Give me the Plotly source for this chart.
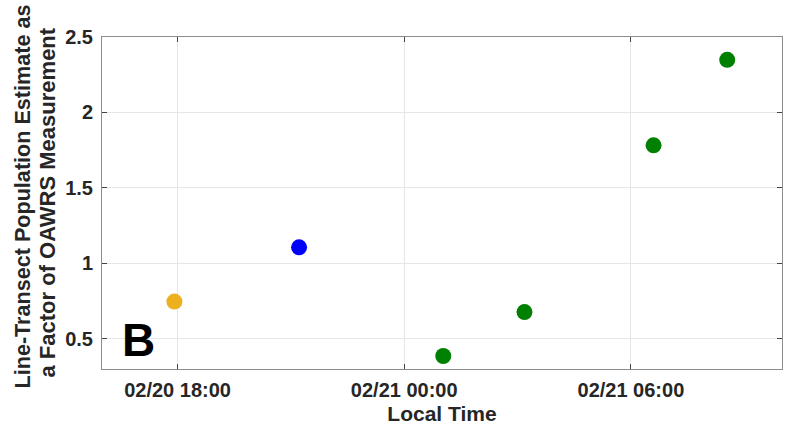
import plotly.graph_objects as go

# Data
times = ["2020-02-20 17:55", "2020-02-20 21:13", "2020-02-21 01:02",
         "2020-02-21 03:11", "2020-02-21 06:36", "2020-02-21 08:33"]
values = [0.747, 1.106, 0.386, 0.677, 1.782, 2.349]
colors = ["rgb(237,177,32)", "rgb(0,0,255)", "rgb(0,128,0)",
          "rgb(0,128,0)", "rgb(0,128,0)", "rgb(0,128,0)"]
x_ticks = ["2020-02-20 18:00", "2020-02-21 00:00", "2020-02-21 06:00"]
x_ticktext = ["02/20 18:00", "02/21 00:00", "02/21 06:00"]
y_ticks = [0.5, 1, 1.5, 2, 2.5]
y_ticktext = ["0.5", "1", "1.5", "2", "2.5"]
y_title_lines = ["Line-Transect Population Estimate as", "a Factor of OAWRS Measurement"]

font_family = "Liberation Sans, Arial, Helvetica, sans-serif"
txt_col = "#262626"

fig = go.Figure()
fig.add_trace(go.Scatter(
    x=times, y=values, mode="markers",
    marker=dict(color=colors, size=16, line=dict(width=0)),
    showlegend=False, hoverinfo="x+y",
))

axis_common = dict(
    showline=True, linecolor="#8c8c8c", linewidth=1, mirror="ticks",
    ticks="inside", ticklen=5, tickcolor="#444444", tickwidth=1,
    showgrid=True, gridcolor="#e6e6e6", gridwidth=1, zeroline=False,
    automargin=False,
    tickfont=dict(family=font_family, size=20, color=txt_col),
)

fig.update_xaxes(
    range=["2020-02-20 16:00", "2020-02-21 10:00"],
    tickmode="array", tickvals=x_ticks, ticktext=[f"<b>{t}</b>" for t in x_ticktext],
    ticklabelstandoff=3,
    title=dict(text="<b>Local Time</b>", font=dict(family=font_family, size=21, color=txt_col), standoff=6),
    **axis_common,
)
fig.update_yaxes(
    range=[0.3, 2.5],
    tickmode="array", tickvals=y_ticks, ticktext=[f"<b>{t}</b>" for t in y_ticktext],
    ticklabelstandoff=4,
    **axis_common,
)

# y-axis title, two rotated lines
for line, xc, yc, fs in zip(y_title_lines, [22, 47], [196.5, 202.5], [21.6, 22]):
    fig.add_annotation(
        x=0, y=(369 - yc) / 332, xref="paper", yref="paper",
        xshift=xc - 102, text=f"<b>{line}</b>", showarrow=False, textangle=-90,
        font=dict(family=font_family, size=fs, color=txt_col),
        xanchor="center", yanchor="middle",
    )

fig.add_annotation(
    x=0.053, y=0.086, xref="paper", yref="paper",
    text="<b>B</b>", showarrow=False,
    font=dict(family=font_family, size=46, color="black"),
    xanchor="center", yanchor="middle",
)

fig.update_layout(
    width=785, height=434,
    margin=dict(l=102, r=3, t=37, b=65),
    paper_bgcolor="white", plot_bgcolor="white",
    font=dict(family=font_family, color=txt_col),
)

fig.write_html("out.html", config={"displayModeBar": False})
with open("out.html", "r", encoding="utf-8") as f:
    html = f.read()
html = html.replace("<head>", "<head><style>html,body{margin:0;padding:0;overflow:hidden;}</style>", 1)
with open("out.html", "w", encoding="utf-8") as f:
    f.write(html)
